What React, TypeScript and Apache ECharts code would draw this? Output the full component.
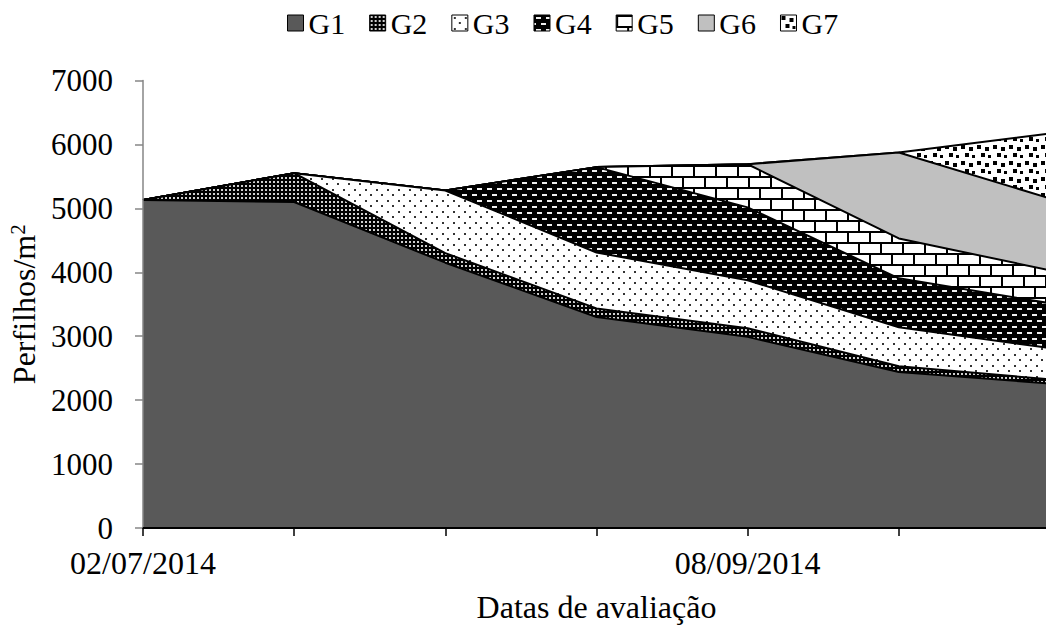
import React, { useEffect, useRef } from "react";
import * as echarts from "echarts";

const seriesNames = ["G1", "G2", "G3", "G4", "G5", "G6", "G7"];
const xTickLabels = ["02/07/2014", "", "", "", "08/09/2014", "", ""];
const g1 = [5130, 5100, 4150, 3300, 2990, 2440, 2260];
const g2 = [0, 450, 150, 135, 135, 90, 65];
const g3 = [0, 0, 980, 875, 750, 610, 490];
const g4 = [0, 0, 0, 1335, 1140, 765, 700];
const g5 = [0, 0, 0, 0, 675, 625, 515];
const g6 = [0, 0, 0, 0, 0, 1345, 1125];
const g7 = [0, 0, 0, 0, 0, 0, 1015];
const yTicks = [0, 1000, 2000, 3000, 4000, 5000, 6000, 7000];

const FONT = "'Liberation Serif', 'Times New Roman', serif";

function makePattern(w: number, h: number, draw: (ctx: CanvasRenderingContext2D) => void) {
  const c = document.createElement("canvas");
  c.width = w;
  c.height = h;
  const ctx = c.getContext("2d") as CanvasRenderingContext2D;
  draw(ctx);
  return { image: c, repeat: "repeat" } as any;
}

function buildFills() {
  const p1 = "#595959";
  const p2 = makePattern(4, 4, (ctx) => {
    ctx.fillStyle = "#000";
    ctx.fillRect(0, 0, 4, 4);
    ctx.fillStyle = "#d0d0d0";
    ctx.fillRect(1, 1, 2, 2);
  });
  const p3 = makePattern(11, 11, (ctx) => {
    ctx.fillStyle = "#fff";
    ctx.fillRect(0, 0, 11, 11);
    ctx.fillStyle = "#333";
    ctx.fillRect(2, 2, 2, 2);
    ctx.fillRect(7, 7, 2, 2);
  });
  const p4 = makePattern(10, 12, (ctx) => {
    ctx.fillStyle = "#000";
    ctx.fillRect(0, 0, 10, 12);
    ctx.fillStyle = "#f0f0f0";
    ctx.fillRect(2, 2, 5, 2);
    ctx.fillRect(7, 8, 3, 2);
    ctx.fillRect(0, 8, 2, 2);
  });
  const p5 = makePattern(22, 22, (ctx) => {
    ctx.fillStyle = "#fff";
    ctx.fillRect(0, 0, 22, 22);
    ctx.fillStyle = "#000";
    ctx.fillRect(0, 0, 22, 2);
    ctx.fillRect(0, 11, 22, 2);
    ctx.fillRect(0, 0, 2, 11);
    ctx.fillRect(11, 11, 2, 11);
  });
  const p6 = "#c0c0c0";
  const p7 = makePattern(16, 16, (ctx) => {
    ctx.fillStyle = "#fff";
    ctx.fillRect(0, 0, 16, 16);
    ctx.fillStyle = "#000";
    ctx.fillRect(1, 1, 4, 4);
    ctx.fillRect(9, 3, 4, 4);
    ctx.fillRect(5, 9, 4, 4);
    ctx.fillRect(12, 11, 3, 3);
  });
  return [p1, p2, p3, p4, p5, p6, p7];
}

export default function App() {
  const ref = useRef<HTMLDivElement>(null);
  useEffect(() => {
    if (!ref.current) return;
    const chart = echarts.init(ref.current, undefined, { renderer: "svg" });
    const fills = buildFills();
    const values = [g1, g2, g3, g4, g5, g6, g7];
    const series = seriesNames.map((name, i) => ({
      name,
      type: "line",
      stack: "total",
      data: values[i],
      z: 10 - i,
      showSymbol: false,
      symbol: "none",
      lineStyle: { color: "#000", width: 2 },
      itemStyle: { color: fills[i] },
      areaStyle: { color: fills[i], opacity: 1 },
      emphasis: { disabled: true },
    }));
    chart.setOption({
      animation: false,
      backgroundColor: "#fff",
      textStyle: { fontFamily: FONT },
      legend: {
        left: 282,
        top: 3,
        icon: "rect",
        itemWidth: 16,
        itemHeight: 16,
        itemGap: 24,
        textStyle: { fontSize: 30, color: "#000", fontFamily: FONT },
        data: seriesNames.map((name, i) => ({
          name,
          icon: "rect",
          itemStyle: { color: fills[i], borderColor: "#000", borderWidth: 1 },
        })),
      },
      grid: {
        left: 143,
        right: -4,
        top: 80.5,
        bottom: 104,
        containLabel: false,
        outerBoundsMode: "none",
      },
      xAxis: {
        type: "category",
        boundaryGap: false,
        data: xTickLabels.map((_, i) => String(i)),
        z: 20,
        axisLine: { show: true, lineStyle: { color: "#000", width: 2 } },
        axisTick: { show: true, interval: 0, length: 8, lineStyle: { color: "#000", width: 1.5 } },
        axisLabel: {
          interval: 0,
          margin: 19,
          fontSize: 32,
          color: "#000",
          fontFamily: FONT,
          formatter: (_: string, i: number) => xTickLabels[i],
        },
        name: "Datas de avaliação",
        nameLocation: "middle",
        nameGap: 63,
        nameTextStyle: { fontSize: 32, color: "#000", fontFamily: FONT },
      },
      yAxis: {
        type: "value",
        min: yTicks[0],
        max: yTicks[yTicks.length - 1],
        interval: 1000,
        z: 20,
        axisLine: { show: true, lineStyle: { color: "#868686", width: 1.5 } },
        axisTick: { show: true, length: 8, lineStyle: { color: "#868686", width: 1.5 } },
        splitLine: { show: false },
        axisLabel: {
          margin: 30,
          fontSize: 31,
          color: "#000",
          fontFamily: FONT,
          formatter: (v: number) => String(v),
        },
        name: "Perfilhos/m{sup|2}",
        nameLocation: "middle",
        nameRotate: 90,
        nameGap: 100,
        nameTextStyle: {
          fontSize: 32,
          color: "#000",
          fontFamily: FONT,
          rich: {
            sup: { fontSize: 21, verticalAlign: "top", color: "#000", fontFamily: FONT, padding: [0, 0, 12, 0] },
          },
        },
      },
      series,
    });
    return () => chart.dispose();
  }, []);
  return (
    <div
      ref={ref}
      style={{ position: "absolute", left: 0, top: 0, width: 1046, height: 632 }}
    />
  );
}
